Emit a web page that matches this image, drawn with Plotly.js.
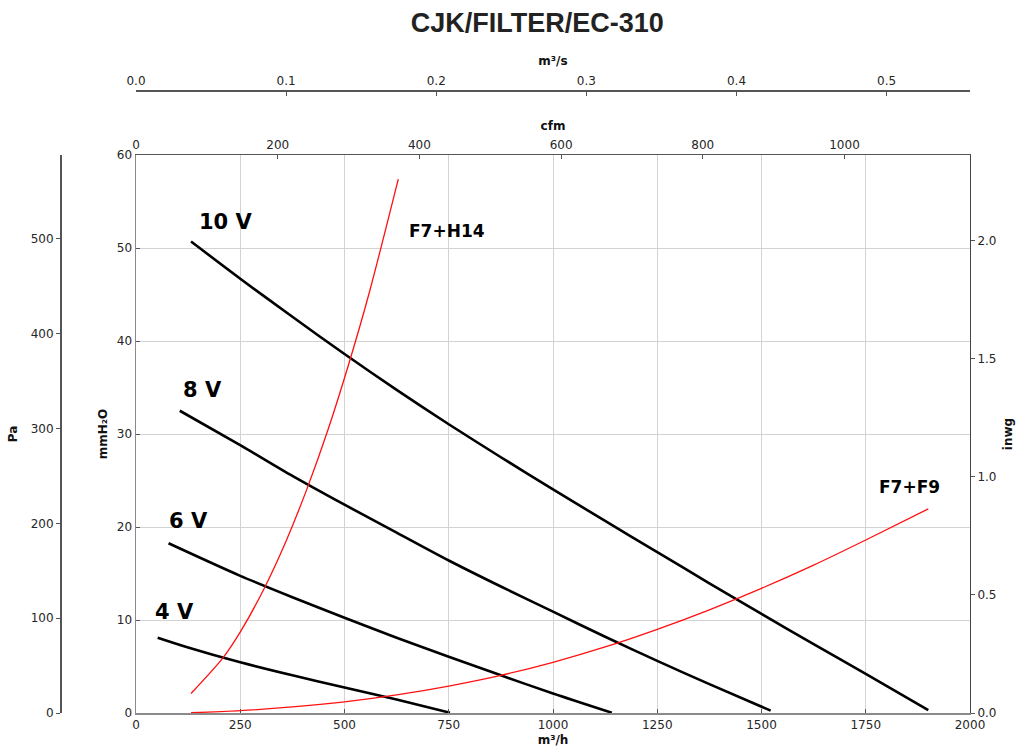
<!DOCTYPE html>
<html>
<head>
<meta charset="utf-8">
<script src="https://cdn.plot.ly/plotly-3.0.1.min.js"></script>
<style>html,body{margin:0;padding:0;background:#fff;}#chart{width:1018px;height:749px;}</style>
</head>
<body>
<div id="chart"></div>
<script>
// Flow in m³/h, pressure in mmH2O
const v10_x = [132, 250, 375, 500, 625, 750, 875, 1000, 1125, 1250, 1375, 1500, 1625, 1750, 1900];
const v10_y = [50.7, 46.7, 42.6, 38.6, 34.75, 31.05, 27.5, 24.05, 20.65, 17.3, 13.95, 10.65, 7.4, 4.2, 0.3];
const v8_x = [105, 252, 375, 500, 625, 750, 875, 1000, 1125, 1250, 1375, 1522];
const v8_y = [32.5, 28.75, 25.5, 22.4, 19.4, 16.4, 13.6, 10.9, 8.2, 5.6, 3.1, 0.25];
const v6_x = [78, 250, 375, 500, 625, 750, 875, 1000, 1141];
const v6_y = [18.25, 14.75, 12.45, 10.25, 8.1, 6.05, 4.05, 2.1, 0.03];
const v4_x = [52, 125, 250, 375, 500, 625, 753];
const v4_y = [8.1, 7.05, 5.45, 4.05, 2.75, 1.45, 0.03];
const h14_x = [132, 209, 252, 308, 360, 410, 460, 512, 560, 629];
const h14_y = [2.1, 5.95, 8.85, 13.45, 18.5, 24.1, 30.4, 37.8, 45.3, 57.4];
const f9_x = [132, 250, 375, 500, 625, 750, 875, 1000, 1125, 1250, 1375, 1500, 1625, 1750, 1900];
const f9_y = [0.03, 0.25, 0.65, 1.2, 1.95, 2.9, 4.05, 5.45, 7.1, 9.0, 11.1, 13.4, 15.9, 18.6, 21.95];

const curveLabels = ['10 V', '8 V', '6 V', '4 V', 'F7+H14', 'F7+F9'];
const labelX = [215, 160, 125, 92, 745, 1854];
const labelY = [52.8, 34.7, 20.6, 10.9, 51.8, 24.3];

const title = 'CJK/FILTER/EC-310';
const xTitle = 'm³/h', cfmTitle = 'cfm', m3sTitle = 'm³/s';
const yTitle = 'mmH₂O', paTitle = 'Pa', inwgTitle = 'inwg';

// unit conversions for the secondary axes
const X_MAX = 2000, Y_MAX = 60;
const PA_PER_MM = 9.80665, MM_PER_INWG = 25.4, M3H_PER_CFM = 1.69901;

const tickFont = {family: 'DejaVu Sans', size: 12, color: '#262626'};
const titleFont = {family: 'DejaVu Sans', size: 12, color: '#111', weight: 'bold'};

function line(x, y, color, width) {
  return {x: x, y: y, type: 'scatter', mode: 'lines', line: {color: color, width: width, shape: 'spline', smoothing: 0.8}, hoverinfo: 'skip', showlegend: false};
}
const traces = [
  line(v10_x, v10_y, '#000', 2.6),
  line(v8_x, v8_y, '#000', 2.6),
  line(v6_x, v6_y, '#000', 2.6),
  line(v4_x, v4_y, '#000', 2.6),
  line(h14_x, h14_y, '#ff1010', 1.3),
  line(f9_x, f9_y, '#ff1010', 1.3),
  {x: [0], y: [0], xaxis: 'x2', yaxis: 'y', mode: 'markers', marker: {opacity: 0}, hoverinfo: 'skip', showlegend: false},
  {x: [0], y: [0], xaxis: 'x3', yaxis: 'y', mode: 'markers', marker: {opacity: 0}, hoverinfo: 'skip', showlegend: false},
  {x: [0], y: [0], xaxis: 'x', yaxis: 'y2', mode: 'markers', marker: {opacity: 0}, hoverinfo: 'skip', showlegend: false},
  {x: [0], y: [0], xaxis: 'x', yaxis: 'y3', mode: 'markers', marker: {opacity: 0}, hoverinfo: 'skip', showlegend: false}
];

const annotations = curveLabels.map((t, i) => ({
  x: labelX[i], y: labelY[i], xref: 'x', yref: 'y', text: t, showarrow: false,
  font: {family: 'DejaVu Sans', size: i < 4 ? 21 : 17, color: '#000', weight: 'bold'},
  xanchor: 'center', yanchor: 'middle'
}));

const W = 1018, H = 749;
const mL = 60, mR = 48, mT = 60, mB = 36;
const plotL = 136, plotTop = 155;
const pw = W - mL - mR, ph = H - mT - mB;

const layout = {
  width: W, height: H,
  margin: {l: mL, r: mR, t: mT, b: mB, pad: 0},
  paper_bgcolor: '#fff', plot_bgcolor: '#fff',
  showlegend: false,
  title: {text: '<b>' + title + '</b>', font: {family: 'Liberation Sans', size: 27, color: '#222'},
          x: 534 / W, xanchor: 'center', y: 1 - 23 / H, yanchor: 'middle', xref: 'paper', yref: 'container'},
  xaxis: {
    domain: [(plotL - mL) / pw, 1], range: [0, X_MAX], dtick: 250, tick0: 0,
    showgrid: true, gridcolor: '#d3d3d3', gridwidth: 1, zeroline: false,
    showline: true, linecolor: '#8a8a8a', linewidth: 2, mirror: false,
    ticks: 'inside', ticklen: 4, tickcolor: '#555', tickfont: tickFont, automargin: false,
    title: {text: '<b>' + xTitle + '</b>', font: titleFont, standoff: 4}
  },
  yaxis: {
    domain: [0, (H - mB - plotTop) / ph], range: [0, Y_MAX], dtick: 10,
    showgrid: true, gridcolor: '#d3d3d3', gridwidth: 1, zeroline: false,
    showline: true, linecolor: '#8a8a8a', linewidth: 1.5,
    ticks: 'inside', ticklen: 4, tickcolor: '#555', tickfont: tickFont, automargin: false,
    title: {text: '<b>' + yTitle + '</b>', font: titleFont, standoff: 6}
  },
  xaxis2: {
    overlaying: 'x', anchor: 'y', side: 'top', range: [0, X_MAX / M3H_PER_CFM], dtick: 200,
    showgrid: false, zeroline: false, showline: true, linecolor: '#555', linewidth: 1.5,
    ticks: 'inside', ticklen: 4, tickcolor: '#555', tickfont: tickFont, automargin: false,
    title: {text: '<b>' + cfmTitle + '</b>', font: titleFont, standoff: 4}
  },
  xaxis3: {
    overlaying: 'x', anchor: 'free', position: (H - mB - 90) / ph, side: 'top',
    range: [0, X_MAX / 3600], dtick: 0.1, tickformat: '.1f',
    showgrid: false, zeroline: false, showline: true, linecolor: '#555', linewidth: 1.5,
    ticks: 'inside', ticklen: 4, tickcolor: '#555', tickfont: tickFont, automargin: false,
    title: {text: '<b>' + m3sTitle + '</b>', font: titleFont, standoff: 4}
  },
  yaxis2: {
    overlaying: 'y', anchor: 'free', position: 0, side: 'left',
    range: [0, Y_MAX * PA_PER_MM], dtick: 100,
    showgrid: false, zeroline: false, showline: true, linecolor: '#555', linewidth: 1.5,
    ticks: 'outside', ticklen: 4, tickcolor: '#555', tickfont: tickFont, automargin: false,
    title: {text: '<b>' + paTitle + '</b>', font: titleFont, standoff: 9}
  },
  yaxis3: {
    overlaying: 'y', anchor: 'x', side: 'right',
    range: [0, Y_MAX / MM_PER_INWG], dtick: 0.5, tickformat: '.1f',
    showgrid: false, zeroline: false, showline: true, linecolor: '#444', linewidth: 1,
    ticks: 'outside', ticklen: 4, tickcolor: '#555', tickfont: tickFont, automargin: false,
    title: {text: '<b>' + inwgTitle + '</b>', font: titleFont, standoff: 8}
  },
  annotations: annotations
};

Plotly.newPlot('chart', traces, layout, {staticPlot: true, displayModeBar: false});
</script>
</body>
</html>
